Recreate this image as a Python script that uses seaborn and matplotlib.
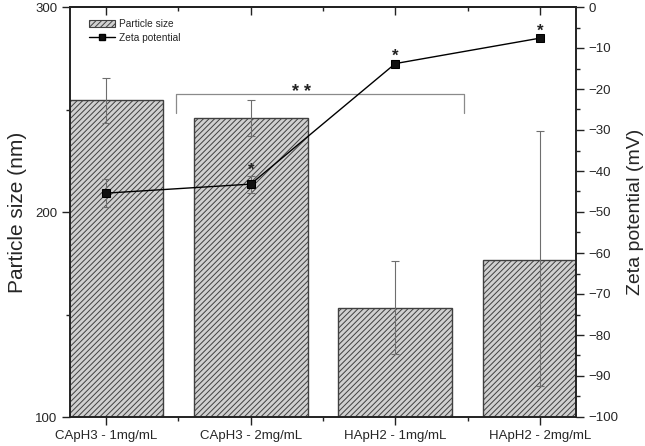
import matplotlib
matplotlib.use("Agg")
import matplotlib.pyplot as plt
from matplotlib.ticker import MultipleLocator, FixedLocator
from matplotlib.patches import Patch
from matplotlib.lines import Line2D
import seaborn as sns
import pandas as pd

# ---- data ----
categories = ["CApH3 - 1mg/mL", "CApH3 - 2mg/mL", "HApH2 - 1mg/mL", "HApH2 - 2mg/mL"]
particle_size = [254.6, 245.8, 153.3, 176.8]
size_err_low = [11.0, 8.6, 22.6, 61.6]
size_err_high = [11.0, 8.6, 22.7, 62.7]
zeta = [-45.4, -43.2, -13.8, -7.6]
zeta_err = [3.4, 2.1, 0.8, 0.8]
zeta_star = [False, True, True, True]

sns.set_style("ticks")
plt.rcParams["font.family"] = ["Liberation Sans", "DejaVu Sans"]
plt.rcParams["hatch.linewidth"] = 0.7

fig = plt.figure(figsize=(6.45, 4.46), dpi=100)
ax = fig.add_axes([70 / 645, 29 / 446, 506 / 645, 410 / 446])

df = pd.DataFrame({"cat": categories, "size": particle_size})
sns.barplot(data=df, x="cat", y="size", ax=ax, color="#d0d0d0", saturation=1,
            width=0.79, edgecolor="#404040", linewidth=1.0, hatch="//////",
            errorbar=None, zorder=2)
xpos = list(range(len(categories)))
ax.errorbar(xpos, particle_size, yerr=[size_err_low, size_err_high], fmt="none",
            ecolor="#6e6e6e", elinewidth=0.8, capsize=3, capthick=0.8, zorder=3)

ax.set_xlim(-0.25, 3.25)
ax.set_ylim(100, 300)
ax.yaxis.set_major_locator(MultipleLocator(100))
ax.yaxis.set_minor_locator(MultipleLocator(50))
ax.xaxis.set_minor_locator(FixedLocator([0.5, 1.5, 2.5]))
ax.set_xlabel("")
ax.set_ylabel("Particle size (nm)", fontsize=15, labelpad=6)
ax.tick_params(axis="both", which="major", direction="out", length=6, width=1,
               labelsize=9.5, color="#222222", pad=3)
ax.tick_params(axis="both", which="minor", direction="out", length=3, width=1,
               color="#222222")
for s in ax.spines.values():
    s.set_linewidth(1.2)
    s.set_color("#222222")
    s.set_visible(True)

top = ax.secondary_xaxis("top")
top.set_xticks(xpos)
top.xaxis.set_minor_locator(FixedLocator([0.5, 1.5, 2.5]))
top.tick_params(which="major", direction="in", length=6, width=1, labeltop=False,
                color="#222222")
top.tick_params(which="minor", direction="in", length=3, width=1, color="#222222")
top.spines["top"].set_linewidth(1.2)

# significance bracket
bx0, bx1, by_top, by_bot = 0.48, 2.473, 257.7, 248.4
ax.plot([bx0, bx0, bx1, bx1], [by_bot, by_top, by_top, by_bot], color="#8a8a8a",
        lw=0.9, zorder=4)
ax.text(1.35, 256.2, "* *", ha="center", va="baseline", fontsize=13,
        fontweight="bold", color="#222222", zorder=4)

# zeta potential on right axis
ax2 = ax.twinx()
ax2.errorbar(xpos, zeta, yerr=zeta_err, fmt="none", ecolor="#6e6e6e",
             elinewidth=0.8, capsize=3, capthick=0.8, zorder=3)
sns.lineplot(x=xpos, y=zeta, ax=ax2, color="black", linewidth=1.0, marker="s",
             markersize=6, markeredgecolor="black", markerfacecolor="#111111",
             zorder=5)
for i, flag in enumerate(zeta_star):
    if flag:
        offset = 19 if zeta_err[i] > 1.5 else 12
        ax2.annotate("*", (xpos[i], zeta[i]), xytext=(0, offset - 9.5),
                     textcoords="offset pixels", ha="center", va="baseline",
                     fontsize=12, fontweight="bold", color="#222222")
ax2.set_xlim(-0.25, 3.25)
ax2.set_ylim(-100, 0)
ax2.yaxis.set_major_locator(MultipleLocator(10))
ax2.yaxis.set_minor_locator(MultipleLocator(5))
ax2.set_ylabel("Zeta potential (mV)", fontsize=14, labelpad=6)
ax2.tick_params(axis="y", which="major", direction="out", length=6, width=1,
                labelsize=9.5, color="#222222", pad=3)
ax2.tick_params(axis="y", which="minor", direction="out", length=3, width=1,
                color="#222222")
for s in ax2.spines.values():
    s.set_linewidth(1.2)
    s.set_color("#222222")

handles = [
    Patch(facecolor="#d0d0d0", edgecolor="#404040", hatch="//////", linewidth=0.8),
    Line2D([0], [0], color="black", lw=1.0, marker="s", markersize=5,
           markerfacecolor="#111111", markeredgecolor="black"),
]
ax2.legend(handles, ["Particle size", "Zeta potential"], loc="upper left",
           bbox_to_anchor=(0.0375, 0.97), frameon=False, fontsize=7.3,
           borderpad=0, borderaxespad=0, handlelength=2.6, handleheight=0.7,
           handletextpad=0.4, labelspacing=0.35)

fig.savefig("out.png", dpi=100)
